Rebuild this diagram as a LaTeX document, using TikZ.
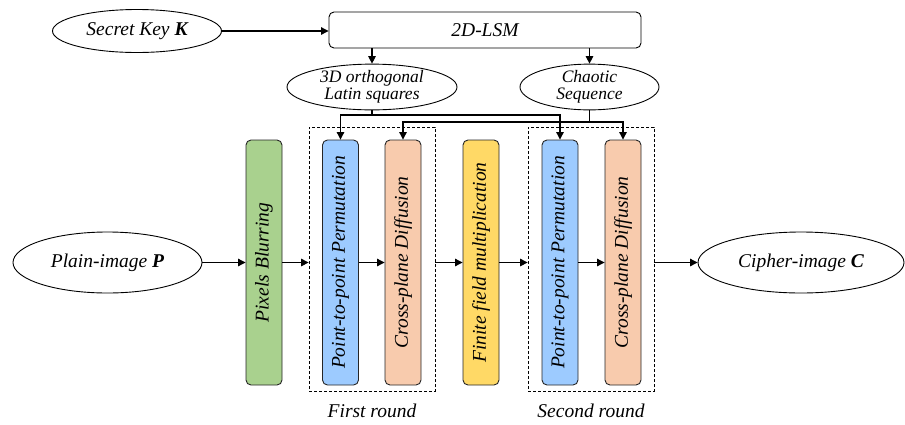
\documentclass[tikz,border=0pt]{standalone}
\usepackage{fontspec}
\setmainfont{Liberation Serif}[
  UprightFont=*,
  ItalicFont=* Italic,
  BoldFont=* Bold,
  BoldItalicFont=* Bold Italic]
\usetikzlibrary{arrows.meta,shapes.geometric}

\definecolor{blurgreen}{HTML}{A9D18E}
\definecolor{permblue}{HTML}{9DCBFF}
\definecolor{diffpeach}{HTML}{F8CBAD}
\definecolor{fieldgold}{HTML}{FFD966}

\tikzset{
  every node/.style={font=\rmfamily\itshape\fontsize{19.5}{21}\selectfont},
  arr/.style={line width=1.1pt, -{Triangle[length=7.5pt,width=7.5pt]}},
  conn/.style={line width=1.1pt},
  oval/.style={ellipse, draw, line width=0.9pt, inner sep=0pt},
  smalloval/.style={oval, align=center, font=\rmfamily\itshape\fontsize{17.5}{16.5}\selectfont},
  stage/.style={draw=black!85, line width=0.9pt, rounded corners=5pt,
    minimum width=36pt, minimum height=245pt, inner sep=0pt},
  roundbox/.style={draw, line width=0.8pt, dash pattern=on 3pt off 2pt,
    minimum width=126pt, minimum height=264pt, inner sep=0pt},
}

\begin{document}
\begin{tikzpicture}[x=1pt,y=-1pt]
  \useasboundingbox (0,0) rectangle (905,424);

  % key schedule
  \node[oval, minimum width=169pt, minimum height=43pt] (key) at (137,31)
    {Secret Key \textbf{K}};
  \node[draw, line width=0.9pt, rounded corners=5pt, minimum width=312pt,
    minimum height=36pt, inner sep=0pt] (lsm) at (485,30) {2D-LSM};
  \node[smalloval, minimum width=170pt, minimum height=40pt] (lat) at (372,87)
    {3D orthogonal\\Latin squares};
  \node[smalloval, minimum width=139pt, minimum height=40pt] (chaos) at (589.5,87)
    {Chaotic\\Sequence};

  % round containers
  \node[roundbox] (round1) at (372,259) {};
  \node[roundbox] (round2) at (591,259) {};

  % processing stages
  \node[stage, fill=blurgreen] (pix) at (264,262.5) {\rotatebox{90}{Pixels Blurring}};
  \node[stage, fill=permblue] (perm1) at (340.5,262.5) {\rotatebox{90}{Point-to-point Permutation}};
  \node[stage, fill=diffpeach] (diff1) at (403,262.5) {\rotatebox{90}{Cross-plane Diffusion}};
  \node[stage, fill=fieldgold] (field) at (481,262.5) {\rotatebox{90}{Finite field multiplication}};
  \node[stage, fill=permblue] (perm2) at (560,262.5) {\rotatebox{90}{Point-to-point Permutation}};
  \node[stage, fill=diffpeach] (diff2) at (623,262.5) {\rotatebox{90}{Cross-plane Diffusion}};

  % input and output
  \node[oval, minimum width=189pt, minimum height=61pt] (plain) at (107.5,262.5)
    {Plain-image \textbf{P}};
  \node[oval, minimum width=206pt, minimum height=61pt] (cipher) at (801,262.5)
    {Cipher-image \textbf{C}};

  % round labels
  \node (lab1) at (372,411) {First round};
  \node (lab2) at (591,411) {Second round};

  % key schedule connectors
  \draw[arr] (key.east) -- (key.east -| lsm.west);
  \draw[arr] (lsm.south -| lat.north) -- (lat.north);
  \draw[arr] (lsm.south -| chaos.north) -- (chaos.north);

  \coordinate (latj) at (372,115);
  \coordinate (chaosj) at (589.5,122);
  \draw[conn] (lat.south) -- (latj);
  \draw[arr] (latj) -| (perm1.north);
  \draw[arr] (latj) -| (perm2.north);
  \draw[conn] (chaos.south) -- (chaosj);
  \draw[arr] (chaosj) -| (diff1.north);
  \draw[arr] (chaosj) -| (diff2.north);

  % main data path
  \draw[arr] (plain.east) -- (pix.west);
  \draw[arr] (pix.east) -- (pix.east -| round1.west);
  \draw[arr] (perm1.east) -- (diff1.west);
  \draw[arr] (field.west -| round1.east) -- (field.west);
  \draw[arr] (field.east) -- (field.east -| round2.west);
  \draw[arr] (perm2.east) -- (diff2.west);
  \draw[arr] (cipher.west -| round2.east) -- (cipher.west);
\end{tikzpicture}
\end{document}
